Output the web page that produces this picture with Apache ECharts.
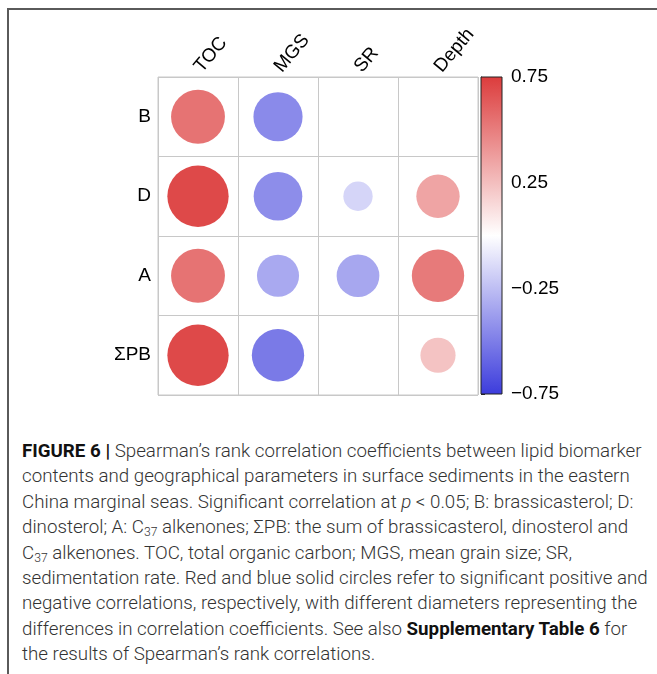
<!DOCTYPE html>
<html>
<head>
<meta charset="utf-8">
<script src="https://cdn.jsdelivr.net/npm/echarts@6/dist/echarts.min.js"></script>
<style>
  html, body { margin: 0; padding: 0; background: #fff; }
  #page { position: relative; width: 657px; height: 674px; overflow: hidden; background: #fff; }
  #frame { position: absolute; left: 7px; top: 8px; width: 700px; height: 700px;
           border-left: 2px solid #5a5a5a; border-top: 2px solid #5a5a5a; }
  #chart { position: absolute; left: 0; top: 0; width: 657px; height: 430px; }
  #caption { position: absolute; left: 22px; top: 439px; width: 634px;
             font-family: Roboto, "Liberation Sans", sans-serif; font-weight: 300;
             font-size: 17.8px; line-height: 25.4px; color: #333; white-space: nowrap; }
  #caption b { font-weight: 700; color: #111; }
  #caption sub { font-size: 0.65em; line-height: 0; vertical-align: -3px; }
</style>
</head>
<body>
<div id="page">
  <div id="frame"></div>
  <div id="chart"></div>
  <div id="caption">
    <span id="firstLine"><b>FIGURE 6 |</b> Spearman’s rank correlation coefficients between lipid biomarker</span><br>
    contents and geographical parameters in surface sediments in the eastern<br>
    China marginal seas. Significant correlation at <i>p</i> &lt; 0.05; B: brassicasterol; D:<br>
    dinosterol; A: C<sub>37</sub> alkenones; ΣPB: the sum of brassicasterol, dinosterol and<br>
    C<sub>37</sub> alkenones. TOC, total organic carbon; MGS, mean grain size; SR,<br>
    sedimentation rate. Red and blue solid circles refer to significant positive and<br>
    negative correlations, respectively, with different diameters representing the<br>
    differences in correlation coefficients. See also <b>Supplementary Table 6</b> for<br>
    the results of Spearman’s rank correlations.
  </div>
</div>
<script>
// Lipid biomarkers (rows) vs. environmental parameters (columns)
const biomarkers = ['B', 'D', 'A', 'ΣPB'];
const parameters = ['TOC', 'MGS', 'SR', 'Depth'];

// Significant Spearman's rho per biomarker (null = not significant, left blank)
const rhoB  = [0.54, -0.45, null, null];
const rhoD  = [0.70, -0.44, -0.16, 0.35];
const rhoA  = [0.54, -0.33, -0.34, 0.51];
const rhoPB = [0.70, -0.51, null, 0.23];

// Colour bar range and tick values
const colorMin = -0.75;
const colorMax = 0.75;
const colorTicks = [-0.75, -0.25, 0.25, 0.75];

// Fit the caption so its first line spans the text column
(function fitCaption() {
  const cap = document.getElementById('caption');
  const first = document.getElementById('firstLine');
  const target = 619;
  const base = parseFloat(getComputedStyle(cap).fontSize);
  const w = first.getBoundingClientRect().width;
  if (w > 0) cap.style.fontSize = (base * target / w).toFixed(2) + 'px';
})();

const rhoRows = [rhoB, rhoD, rhoA, rhoPB];
const cells = [];
rhoRows.forEach((row, yi) => {
  row.forEach((rho, xi) => {
    if (rho !== null) cells.push([xi, yi, rho]);
  });
});

const BLUE = '#3c3cdc', RED = '#dc3c3c';
const FONT = '"Liberation Sans", Arial, Helvetica, sans-serif';
// circle area proportional to |rho|
const fullDiameter = 73.3;

const fmtTick = v => (v < 0 ? '\u2212' : '') + Math.abs(v).toFixed(2);

const chart = echarts.init(document.getElementById('chart'), null, { renderer: 'canvas' });
chart.setOption({
  animation: false,
  backgroundColor: 'transparent',
  grid: [
    { left: 158, top: 77, width: 320, height: 318, show: true,
      borderColor: '#c8c8c8', borderWidth: 1, backgroundColor: 'transparent' },
    { left: 481, top: 77, width: 21, height: 317 }
  ],
  xAxis: [
    { gridIndex: 0, type: 'category', data: parameters, position: 'top',
      axisLine: { show: false }, axisTick: { show: false },
      splitLine: { show: true, interval: 0, lineStyle: { color: '#c8c8c8', width: 1 } },
      axisLabel: { rotate: -50, margin: 7, interval: 0, color: '#000',
                   fontSize: 19, fontFamily: FONT } },
    { gridIndex: 1, type: 'value', min: 0, max: 1, show: false }
  ],
  yAxis: [
    { gridIndex: 0, type: 'category', data: biomarkers, inverse: true,
      axisLine: { show: false }, axisTick: { show: false },
      splitLine: { show: true, interval: 0, lineStyle: { color: '#c8c8c8', width: 1 } },
      axisLabel: { margin: 7, interval: 0, color: '#000', fontSize: 19,
                   fontFamily: FONT } },
    { gridIndex: 1, type: 'value', position: 'right', min: colorMin, max: colorMax,
      splitLine: { show: false },
      axisLine: { show: true, lineStyle: { color: '#222', width: 1 } },
      axisTick: { show: true, length: 4, customValues: colorTicks,
                  lineStyle: { color: '#222', width: 1 } },
      axisLabel: { customValues: colorTicks, formatter: fmtTick, margin: 9,
                   color: '#000', fontSize: 19, fontFamily: FONT } }
  ],
  visualMap: {
    type: 'continuous', show: false, seriesIndex: 0, dimension: 2,
    min: colorMin, max: colorMax,
    inRange: { color: [BLUE, '#ffffff', RED] }
  },
  series: [
    { type: 'scatter', xAxisIndex: 0, yAxisIndex: 0, data: cells,
      symbol: 'circle',
      symbolSize: d => fullDiameter * Math.sqrt(Math.abs(d[2])),
      itemStyle: { opacity: 1 } },
    { type: 'custom', xAxisIndex: 1, yAxisIndex: 1, data: [[0, colorMin, colorMax]],
      renderItem: (params, api) => {
        const topLeft = api.coord([0, api.value(2)]);
        const bottomRight = api.coord([1, api.value(1)]);
        return {
          type: 'rect',
          shape: { x: topLeft[0], y: topLeft[1],
                   width: bottomRight[0] - topLeft[0], height: bottomRight[1] - topLeft[1] },
          style: {
            fill: new echarts.graphic.LinearGradient(0, 0, 0, 1, [
              { offset: 0, color: RED }, { offset: 0.5, color: '#ffffff' }, { offset: 1, color: BLUE }
            ]),
            stroke: '#222', lineWidth: 1
          }
        };
      } }
  ]
});
</script>
</body>
</html>
